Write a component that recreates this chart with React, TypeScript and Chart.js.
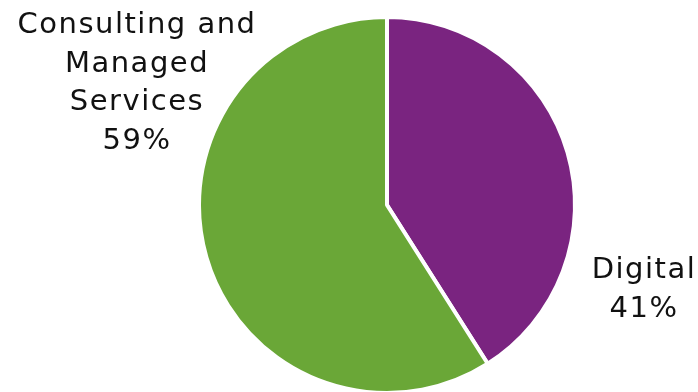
import React, { useEffect, useRef } from "react";
import { Chart, registerables } from "chart.js";

Chart.register(...registerables);

const categories = ["Digital", "Consulting and Managed Services"];
const values = [41, 59];
const colors = ["#7A2480", "#6AA737"];
const labelLines = [["Digital"], ["Consulting and", "Managed", "Services"]];

export default function App() {
  const ref = useRef<HTMLCanvasElement | null>(null);

  useEffect(() => {
    const canvas = ref.current;
    if (!canvas) return;
    const total = values.reduce((a, b) => a + b, 0);

    const labelPlugin = {
      id: "sliceLabels",
      afterDraw(chart: any) {
        const ctx = chart.ctx;
        ctx.save();
        ctx.font = "29px 'DejaVu Sans'";
        (ctx as any).letterSpacing = "1.5px";
        ctx.fillStyle = "#111111";
        ctx.textAlign = "center";
        ctx.textBaseline = "alphabetic";
        const anchors = [
          { x: 644, y: 278 },
          { x: 137, y: 33 },
        ];
        const lh = 38.5;
        labelLines.forEach((lines, i) => {
          const pct = Math.round((values[i] / total) * 100) + "%";
          const all = [...lines, pct];
          all.forEach((t, j) => {
            ctx.fillText(t, anchors[i].x, anchors[i].y + j * lh);
          });
        });
        ctx.restore();
      },
    };

    const chart = new Chart(canvas, {
      type: "pie",
      data: {
        labels: categories,
        datasets: [
          {
            data: values,
            backgroundColor: colors,
            borderColor: "#ffffff",
            borderWidth: 4,
            clip: false as any,
          },
        ],
      },
      options: {
        animation: false,
        responsive: false,
        radius: 188,
        layout: { padding: { left: 76, right: 0, top: 18, bottom: 0 } },
        plugins: {
          legend: { display: false },
          tooltip: { enabled: false },
        },
      } as any,
      plugins: [labelPlugin],
    });
    return () => chart.destroy();
  }, []);

  return (
    <div style={{ position: "fixed", left: 0, top: 0, width: 698, height: 392, background: "#fff" }}>
      <canvas ref={ref} width={698} height={392} style={{ width: 698, height: 392, display: "block" }} />
    </div>
  );
}
